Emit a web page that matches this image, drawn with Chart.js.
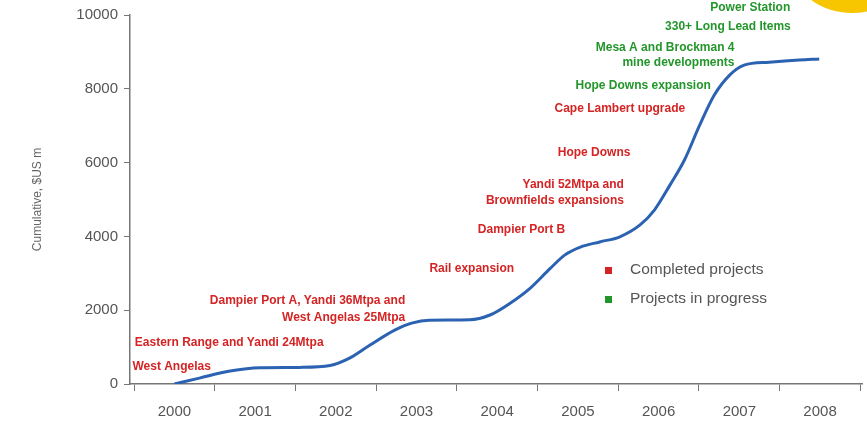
<!DOCTYPE html>
<html>
<head>
<meta charset="utf-8">
<script src="https://cdn.jsdelivr.net/npm/chart.js@4.4.1/dist/chart.umd.min.js"></script>
<style>
html, body { margin: 0; padding: 0; background: #fff; }
</style>
</head>
<body>
<canvas id="capexChart" width="867" height="428"></canvas>
<script>
// year labels on the x axis
var years = [2000, 2001, 2002, 2003, 2004, 2005, 2006, 2007, 2008];
var yTicks = [0, 2000, 4000, 6000, 8000, 10000];

// cumulative spend curve (fractional years)
var spendYears = [2000.0, 2000.31, 2000.69, 2001.06, 2001.55, 2001.93, 2002.17, 2002.42, 2002.73, 2002.94,
	2003.16, 2003.66, 2003.91, 2004.16, 2004.41, 2004.66, 2004.84, 2005.03, 2005.27, 2005.52,
	2005.77, 2005.95, 2006.14, 2006.32, 2006.51, 2006.69, 2006.88, 2007.06, 2007.37, 2007.74, 2007.99];
var spendValues = [0, 160, 350, 440, 450, 500, 700, 1050, 1460, 1650,
	1730, 1740, 1870, 2190, 2600, 3140, 3500, 3710, 3850, 3990,
	4310, 4720, 5390, 6070, 7020, 7830, 8370, 8640, 8720, 8780, 8810];

// project notes: text, where they sit (year, value), status and anchor side
var noteTexts = ['West Angelas', 'Eastern Range and Yandi 24Mtpa', 'Dampier Port A, Yandi 36Mtpa and', 'West Angelas 25Mtpa',
	'Rail expansion', 'Dampier Port B', 'Yandi 52Mtpa and', 'Brownfields expansions', 'Hope Downs', 'Cape Lambert upgrade',
	'Hope Downs expansion', 'Mesa A and Brockman 4', 'mine developments', '330+ Long Lead Items', 'Power Station'];
var noteYears = [1999.48, 1999.51, 2002.86, 2002.86, 2003.16, 2003.76, 2005.57, 2005.57, 2004.75, 2004.71,
	2004.97, 2006.94, 2006.94, 2006.08, 2006.64];
var noteValues = [461, 1111, 2249, 1789, 3117, 4173, 5393, 4959, 6260, 7453,
	8076, 9106, 8699, 9675, 10190];
var noteStatus = ['done', 'done', 'done', 'done', 'done', 'done', 'done', 'done', 'done', 'done',
	'progress', 'progress', 'progress', 'progress', 'progress'];
var noteAlign = ['left', 'left', 'right', 'right', 'left', 'left', 'right', 'right', 'left', 'left',
	'left', 'right', 'right', 'left', 'left'];

var legendLabels = ['Completed projects', 'Projects in progress'];
var statusColors = { done: '#d42424', progress: '#23962b' };

var notesPlugin = {
	id: 'notes',
	afterDraw: function(chart) {
		var ctx = chart.ctx;
		var xs = chart.scales.x;
		var ys = chart.scales.y;
		ctx.save();
		// yellow logo corner
		ctx.fillStyle = '#f7c600';
		ctx.beginPath();
		ctx.ellipse(852, -32, 58, 45, 0, 0, Math.PI * 2);
		ctx.fill();

		ctx.font = 'bold 12px "Liberation Sans", Arial, sans-serif';
		ctx.textBaseline = 'middle';
		for (var i = 0; i < noteTexts.length; i++) {
			ctx.fillStyle = statusColors[noteStatus[i]];
			ctx.textAlign = noteAlign[i];
			ctx.fillText(noteTexts[i], xs.getPixelForValue(noteYears[i]), ys.getPixelForValue(noteValues[i]));
		}

		// legend
		var keys = ['done', 'progress'];
		ctx.font = '15.5px "Liberation Sans", Arial, sans-serif';
		ctx.textAlign = 'left';
		for (var k = 0; k < legendLabels.length; k++) {
			var ly = 270 + k * 29;
			ctx.fillStyle = statusColors[keys[k]];
			ctx.fillRect(605, ly - 3, 7, 7);
			ctx.fillStyle = '#555';
			ctx.fillText(legendLabels[k], 630, ly);
		}
		ctx.restore();
	}
};

var ctx = document.getElementById('capexChart');
var capexChart = new Chart(ctx, {
	type: 'line',
	data: {
		datasets: [{
			data: spendYears.map(function(yr, i) { return { x: yr, y: spendValues[i] }; }),
			borderColor: '#2b62b2',
			borderWidth: 3,
			pointRadius: 0,
			fill: false,
			cubicInterpolationMode: 'monotone'
		}]
	},
	options: {
		responsive: false,
		animation: false,
		layout: { padding: { top: 15, right: 5, left: 0, bottom: 0 } },
		plugins: { legend: { display: false }, tooltip: { enabled: false } },
		scales: {
			x: {
				type: 'linear',
				min: 1999.45,
				max: 2008.52,
				afterBuildTicks: function(scale) {
					var t = [{ value: years[0] - 0.5 }];
					for (var i = 0; i < years.length; i++) {
						t.push({ value: years[i] });
						t.push({ value: years[i] + 0.5 });
					}
					scale.ticks = t;
				},
				afterFit: function(scale) {
					scale.height = 44;
					scale.paddingRight = 0;
					scale.paddingLeft = 0;
				},
				ticks: {
					autoSkip: false,
					maxRotation: 0,
					padding: 12,
					color: '#555',
					font: { size: 15, family: '"Liberation Sans", Arial, sans-serif' },
					callback: function(v) { return Number.isInteger(v) ? String(v) : ''; }
				},
				grid: {
					drawOnChartArea: false,
					tickLength: 7,
					color: function(c) { return Number.isInteger(c.tick.value) ? 'rgba(0,0,0,0)' : '#777'; }
				},
				border: { color: '#777', width: 1.5 }
			},
			y: {
				min: 0,
				max: 10000,
				afterBuildTicks: function(scale) {
					scale.ticks = yTicks.map(function(v) { return { value: v }; });
				},
				afterFit: function(scale) { scale.width = 130; },
				ticks: {
					padding: 6,
					color: '#555',
					font: { size: 15, family: '"Liberation Sans", Arial, sans-serif' },
					callback: function(v) { return String(v); }
				},
				grid: { drawOnChartArea: false, tickLength: 6, color: '#777' },
				border: { color: '#777', width: 1.5 },
				title: {
					display: true,
					text: 'Cumulative, $US m',
					color: '#666',
					padding: { top: 30, bottom: 0 },
					font: { size: 12, family: '"Liberation Sans", Arial, sans-serif' }
				}
			}
		}
	},
	plugins: [notesPlugin]
});
</script>
</body>
</html>
